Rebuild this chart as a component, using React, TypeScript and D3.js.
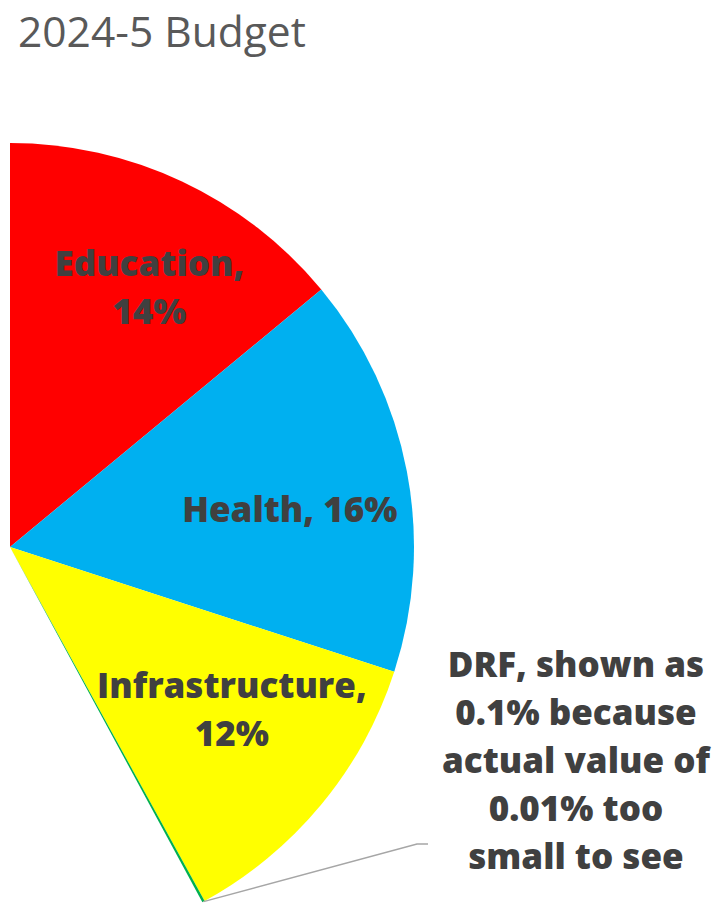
import React from 'react';
import * as d3 from 'd3';

const categories = ['Education', 'Health', 'Infrastructure', 'DRF', 'Other'];
const shares = [14, 16, 12, 0.1, 57.9];
const sliceColors = ['#FF0000', '#00B0F0', '#FFFF00', '#00B050', 'none'];
const labelLines: string[][] = [
  ['Education,', '14%'],
  ['Health, 16%'],
  ['Infrastructure,', '12%'],
  ['DRF, shown as', '0.1% because', 'actual value of', '0.01% too', 'small to see'],
  [],
];

const width = 720;
const height = 913;
const cx = 10;
const cy = 547;
const radius = 404;
const lineHeight = 48;
const font = "'Open Sans', sans-serif";
const labelSize = 35;

// nudges so labels sit where the original put them
const labelNudge: Array<[number, number]> = [[19, -3], [2, 16], [4, -17], [0, 0], [0, 0]];

type Row = { name: string; value: number; color: string; lines: string[] };

const rows: Row[] = categories.map((name, i) => ({
  name,
  value: shares[i],
  color: sliceColors[i],
  lines: labelLines[i],
}));

const App: React.FC = () => {
  const pie = d3.pie<Row>().sort(null).value(d => d.value).startAngle(0).endAngle(2 * Math.PI);
  const arcs = pie(rows);
  const arc = d3.arc<d3.PieArcDatum<Row>>().innerRadius(0).outerRadius(radius);
  const labelArc = d3.arc<d3.PieArcDatum<Row>>().innerRadius(radius * 0.7).outerRadius(radius * 0.7);

  const drf = arcs[3];
  const mid = (drf.startAngle + drf.endAngle) / 2;
  const p0: [number, number] = [cx + radius * Math.sin(mid), cy - radius * Math.cos(mid)];
  const drfTextX = 576;
  const drfTextY = 677;
  const elbow: [number, number] = [drfTextX - 159, drfTextY + 3.5 * lineHeight - 1];
  const leader = d3.line()([p0, elbow, [elbow[0] + 11, elbow[1]]]) || '';

  return (
    <svg width={width} height={height} style={{ position: 'absolute', left: 0, top: 0, background: '#fff' }}>
      <text x={18} y={47} fill="#595959" style={{ fontFamily: font, fontSize: 42.5 }}>2024-5 Budget</text>
      <g transform={`translate(${cx},${cy})`}>
        {arcs.map((a, i) => (
          a.data.color === 'none' ? null : (
            <path key={i} d={arc(a) || ''} fill={a.data.color} />
          )
        ))}
        {arcs.slice(0, 3).map((a, i) => {
          const [x, y] = labelArc.centroid(a);
          const n = a.data.lines.length;
          return (
            <text key={i} x={x + labelNudge[i][0]} y={y + labelNudge[i][1]} textAnchor="middle"
              fill="#404040" style={{ fontFamily: font, fontSize: labelSize, fontWeight: 800 }}>
              {a.data.lines.map((t, j) => (
                <tspan key={j} x={x + labelNudge[i][0]}
                  dy={j === 0 ? -((n - 1) / 2) * lineHeight + 12 : lineHeight}>{t}</tspan>
              ))}
            </text>
          );
        })}
      </g>
      <path d={leader} fill="none" stroke="#A6A6A6" strokeWidth={1.5} />
      <text textAnchor="middle" fill="#404040" style={{ fontFamily: font, fontSize: labelSize, fontWeight: 800 }}>
        {drf.data.lines.map((t, j) => (
          <tspan key={j} x={drfTextX} y={drfTextY + j * lineHeight}>{t}</tspan>
        ))}
      </text>
    </svg>
  );
};

export default App;
